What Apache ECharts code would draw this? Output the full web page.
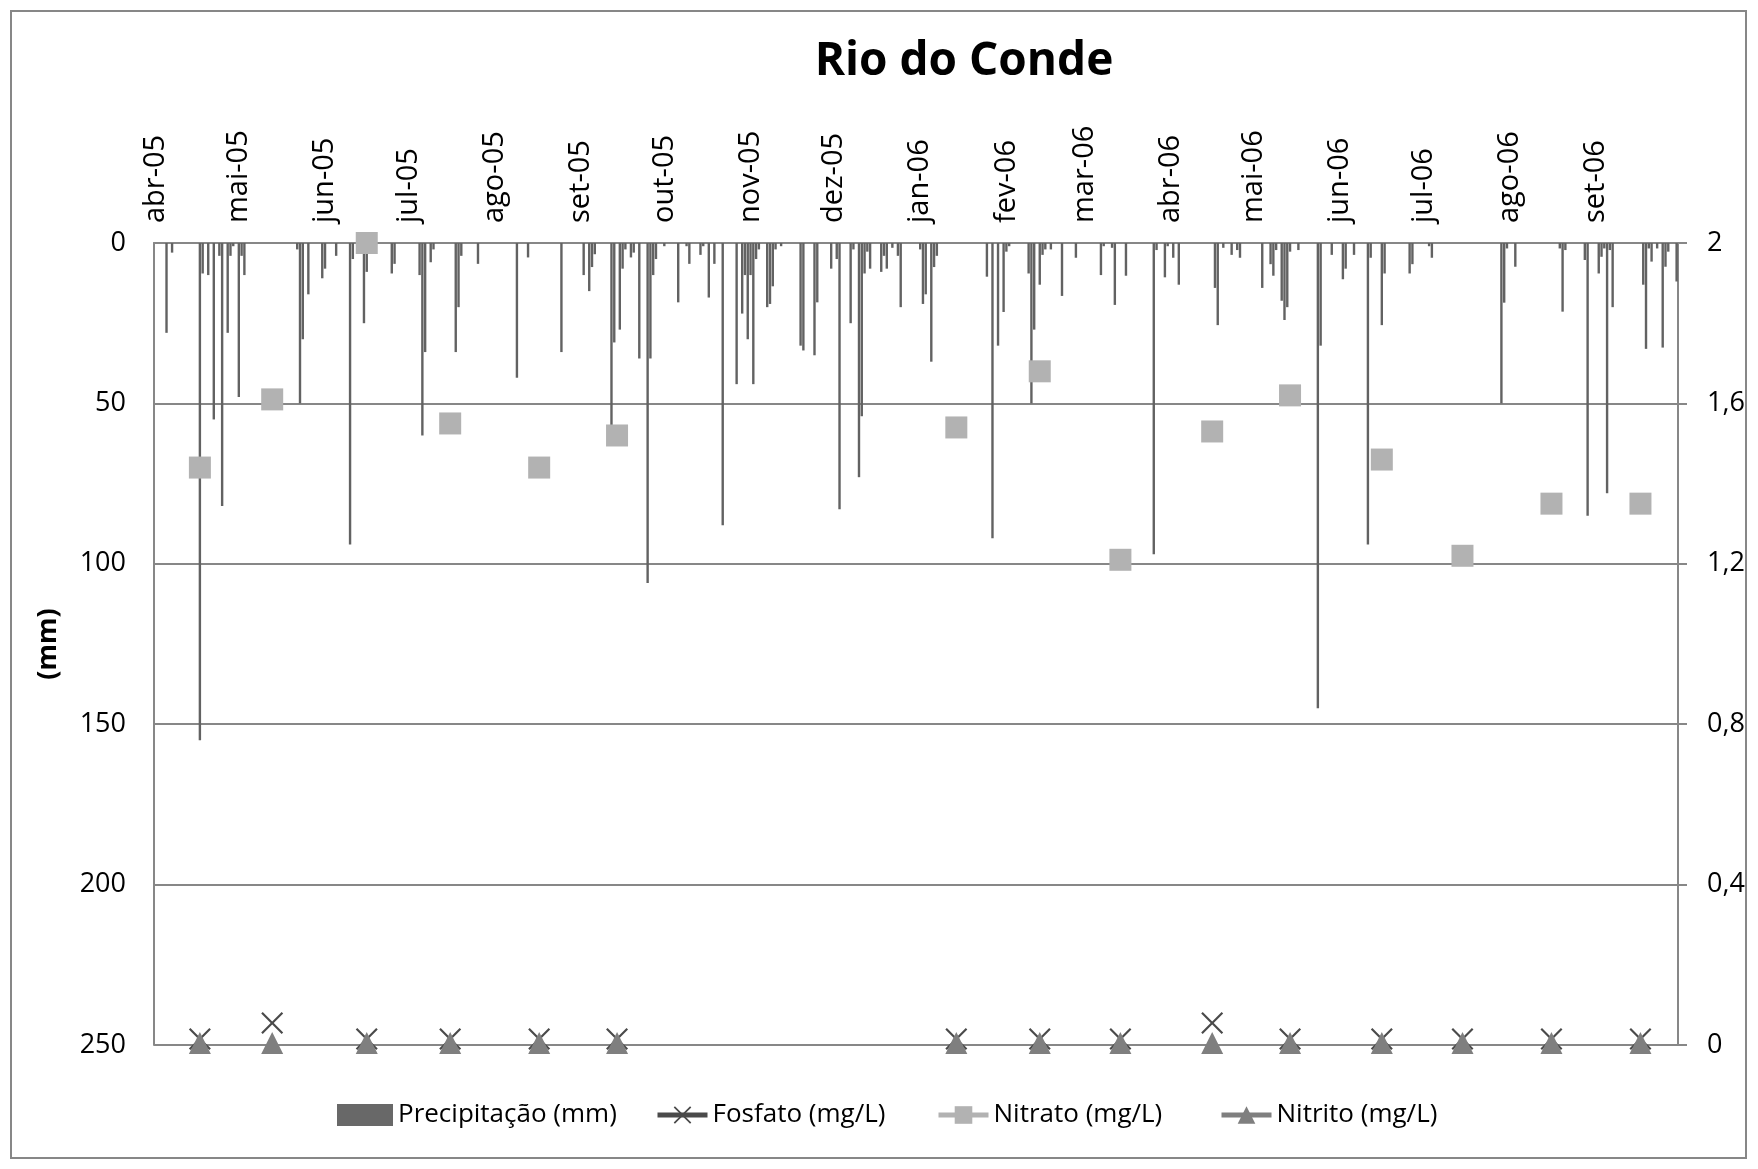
<!DOCTYPE html>
<html>
<head>
<meta charset="utf-8">
<script src="https://cdn.jsdelivr.net/npm/echarts@6/dist/echarts.min.js"></script>
<style>
  html, body { margin: 0; padding: 0; background: #ffffff; }
  #chart { width: 1758px; height: 1169px; }
</style>
</head>
<body>
<div id="chart"></div>
<script>
// Period covered: daily, from 1 Apr 2005 to 30 Sep 2006
const startDate = '2005-04-01';
const dayCount = 548;

// Month tick labels (first day of each month)
const monthLabels = ['abr-05', 'mai-05', 'jun-05', 'jul-05', 'ago-05', 'set-05', 'out-05', 'nov-05', 'dez-05',
  'jan-06', 'fev-06', 'mar-06', 'abr-06', 'mai-06', 'jun-06', 'jul-06', 'ago-06', 'set-06'];

// Daily rainfall (mm); days not listed had no rain
const precipitacao = [
  ['2005-04-05', 28], ['2005-04-07', 3], ['2005-04-17', 155], ['2005-04-18', 9.5], ['2005-04-20', 10],
  ['2005-04-22', 55], ['2005-04-24', 4], ['2005-04-25', 82], ['2005-04-27', 28], ['2005-04-28', 4],
  ['2005-04-29', 1], ['2005-05-01', 48], ['2005-05-02', 4], ['2005-05-03', 10], ['2005-05-22', 2],
  ['2005-05-23', 50], ['2005-05-24', 30], ['2005-05-26', 16], ['2005-05-31', 11], ['2005-06-01', 8],
  ['2005-06-05', 4], ['2005-06-10', 94], ['2005-06-11', 5], ['2005-06-15', 25], ['2005-06-16', 9],
  ['2005-06-25', 9.5], ['2005-06-26', 6.5], ['2005-07-05', 10], ['2005-07-06', 60], ['2005-07-07', 34],
  ['2005-07-09', 6], ['2005-07-10', 2], ['2005-07-18', 34], ['2005-07-19', 20], ['2005-07-20', 4],
  ['2005-07-26', 6.5], ['2005-08-09', 42], ['2005-08-13', 4.5], ['2005-08-25', 34], ['2005-09-02', 10],
  ['2005-09-04', 15], ['2005-09-05', 7.5], ['2005-09-06', 3.5], ['2005-09-12', 57], ['2005-09-13', 31],
  ['2005-09-15', 27], ['2005-09-16', 8], ['2005-09-17', 2], ['2005-09-19', 4.5], ['2005-09-20', 3],
  ['2005-09-22', 36], ['2005-09-25', 106], ['2005-09-26', 36], ['2005-09-27', 10], ['2005-09-28', 5],
  ['2005-10-01', 1], ['2005-10-06', 18.5], ['2005-10-09', 1], ['2005-10-10', 6.5], ['2005-10-14', 3.7],
  ['2005-10-15', 1], ['2005-10-17', 17], ['2005-10-19', 6.5], ['2005-10-22', 88], ['2005-10-27', 44],
  ['2005-10-29', 22], ['2005-10-30', 10], ['2005-10-31', 30], ['2005-11-01', 10], ['2005-11-02', 44],
  ['2005-11-03', 5], ['2005-11-04', 2], ['2005-11-07', 20], ['2005-11-08', 19], ['2005-11-09', 13.5],
  ['2005-11-10', 2], ['2005-11-12', 1], ['2005-11-19', 32], ['2005-11-20', 33.5], ['2005-11-24', 35],
  ['2005-11-25', 18.5], ['2005-11-30', 8], ['2005-12-02', 5], ['2005-12-03', 83], ['2005-12-07', 25],
  ['2005-12-08', 2], ['2005-12-10', 73], ['2005-12-11', 54], ['2005-12-12', 9.5], ['2005-12-13', 2.7],
  ['2005-12-14', 8], ['2005-12-18', 9], ['2005-12-19', 4], ['2005-12-20', 8], ['2005-12-22', 1.5],
  ['2005-12-24', 4], ['2005-12-25', 20], ['2006-01-01', 2], ['2006-01-02', 19], ['2006-01-03', 16],
  ['2006-01-05', 37], ['2006-01-06', 7.5], ['2006-01-07', 4], ['2006-01-25', 10.5], ['2006-01-27', 92],
  ['2006-01-29', 32], ['2006-01-31', 21.5], ['2006-02-01', 2.7], ['2006-02-02', 1], ['2006-02-09', 9.5],
  ['2006-02-10', 50], ['2006-02-11', 27], ['2006-02-13', 13], ['2006-02-14', 3.7], ['2006-02-15', 2],
  ['2006-02-17', 2], ['2006-02-21', 16.5], ['2006-02-26', 4.6], ['2006-03-07', 10], ['2006-03-08', 1],
  ['2006-03-11', 1.5], ['2006-03-12', 19.3], ['2006-03-16', 10.2], ['2006-03-26', 97], ['2006-03-27', 2.2],
  ['2006-03-30', 10.7], ['2006-03-31', 1], ['2006-04-02', 4.6], ['2006-04-04', 13], ['2006-04-17', 14],
  ['2006-04-18', 25.6], ['2006-04-20', 1.5], ['2006-04-23', 3.7], ['2006-04-25', 2.2], ['2006-04-26', 4.6],
  ['2006-05-04', 14], ['2006-05-07', 6.6], ['2006-05-08', 10.2], ['2006-05-09', 2.2], ['2006-05-11', 18],
  ['2006-05-12', 24], ['2006-05-13', 20], ['2006-05-14', 2.7], ['2006-05-17', 2.2], ['2006-05-24', 145],
  ['2006-05-25', 32], ['2006-05-29', 3.7], ['2006-06-02', 11.3], ['2006-06-03', 8], ['2006-06-06', 3.7],
  ['2006-06-11', 94], ['2006-06-12', 4.6], ['2006-06-16', 25.6], ['2006-06-17', 9.5], ['2006-06-26', 9.5],
  ['2006-06-27', 6.6], ['2006-07-03', 1], ['2006-07-04', 4.6], ['2006-07-29', 50], ['2006-07-30', 18.6],
  ['2006-07-31', 1.7], ['2006-08-03', 7.4], ['2006-08-19', 1.7], ['2006-08-20', 21.4], ['2006-08-21', 2.2],
  ['2006-08-28', 5.3], ['2006-08-29', 85], ['2006-09-02', 9.5], ['2006-09-03', 4.3], ['2006-09-04', 1.7],
  ['2006-09-05', 78], ['2006-09-06', 2.2], ['2006-09-07', 20], ['2006-09-18', 13], ['2006-09-19', 33],
  ['2006-09-20', 1.7], ['2006-09-21', 5.8], ['2006-09-23', 1.7], ['2006-09-25', 32.6], ['2006-09-26', 7.4],
  ['2006-09-27', 2.7], ['2006-09-30', 12]
];

// Water-quality sampling campaigns
const coletas = ['2005-04-17', '2005-05-13', '2005-06-16', '2005-07-16', '2005-08-17', '2005-09-14',
  '2006-01-14', '2006-02-13', '2006-03-14', '2006-04-16', '2006-05-14', '2006-06-16', '2006-07-15',
  '2006-08-16', '2006-09-17'];
const fosfato = [0.015, 0.055, 0.015, 0.015, 0.015, 0.015, 0.015, 0.015, 0.015, 0.055, 0.015, 0.015, 0.015, 0.015, 0.015];
const nitrato = [1.44, 1.61, 2.0, 1.55, 1.44, 1.52, 1.54, 1.68, 1.21, 1.53, 1.62, 1.46, 1.22, 1.35, 1.35];
const nitrito = [0.005, 0.005, 0.005, 0.005, 0.005, 0.005, 0.005, 0.005, 0.005, 0.005, 0.005, 0.005, 0.005, 0.005, 0.005];

// Legend entries and where each one starts
const legendNames = ['Precipitação (mm)', 'Fosfato (mg/L)', 'Nitrato (mg/L)', 'Nitrito (mg/L)'];
const legendLeft = [332, 650, 931, 1214];

// ---- build the daily category axis and per-day series ----
function isoDay(d) {
  return d.toISOString().slice(0, 10);
}
const days = [];
const t0 = new Date(startDate + 'T00:00:00Z');
for (let i = 0; i < dayCount; i++) {
  days.push(isoDay(new Date(t0.getTime() + i * 86400000)));
}
const dayIndex = {};
days.forEach((d, i) => { dayIndex[d] = i; });

const chuva = days.map(() => 0);
precipitacao.forEach(([d, v]) => { chuva[dayIndex[d]] = v; });

function porDia(valores) {
  const arr = days.map(() => null);
  coletas.forEach((d, i) => { arr[dayIndex[d]] = valores[i]; });
  return arr;
}

const FONT = '"Open Sans", "Noto Sans", sans-serif';
const AXIS_GRAY = '#878787';

// X-shaped marker outline (10x10 box)
const xMarker = 'path://M0,0.7 L0.7,0 L5,4.3 L9.3,0 L10,0.7 L5.7,5 L10,9.3 L9.3,10 L5,5.7 L0.7,10 L0,9.3 L4.3,5 Z';

// one legend box per entry, placed side by side along the bottom
const legends = legendNames.map((name, i) => ({
  left: legendLeft[i],
  top: 1097,
  itemWidth: i === 0 ? 56 : 50,
  itemHeight: 22,
  textStyle: { fontFamily: FONT, fontSize: 26, color: '#000' },
  lineStyle: { width: 5 },
  data: [i === 0 ? { name, icon: 'rect', itemStyle: { color: '#686868' } } : { name }]
}));

const chart = echarts.init(document.getElementById('chart'), null, { renderer: 'canvas' });

chart.setOption({
  backgroundColor: '#ffffff',
  animation: false,
  title: {
    text: 'Rio do Conde',
    left: 959,
    top: 34,
    textAlign: 'center',
    textStyle: { fontFamily: FONT, fontSize: 46, fontWeight: 'bold', color: '#000' }
  },
  graphic: [{
    type: 'rect',
    silent: true,
    shape: { x: 11, y: 11, width: 1735, height: 1147 },
    style: { fill: 'none', stroke: AXIS_GRAY, lineWidth: 2 }
  }],
  legend: legends,
  grid: {
    left: 154, top: 243, width: 1524, height: 802,
    containLabel: false, outerBoundsMode: 'none'
  },
  xAxis: {
    type: 'category',
    data: days,
    position: 'top',
    boundaryGap: true,
    axisLine: { onZero: false, lineStyle: { color: AXIS_GRAY, width: 2 } },
    axisTick: { show: false },
    splitLine: { show: false },
    axisLabel: {
      rotate: -90,
      margin: 20,
      fontFamily: FONT,
      fontSize: 29,
      color: '#000',
      interval: (idx, val) => val.slice(8) === '01',
      formatter: (val) => {
        const y = +val.slice(0, 4), m = +val.slice(5, 7);
        return monthLabels[(y - 2005) * 12 + (m - 4)];
      }
    }
  },
  yAxis: [{
    type: 'value',
    position: 'left',
    inverse: true,
    min: 0, max: 250, interval: 50,
    name: '(mm)',
    nameLocation: 'middle',
    nameRotate: 90,
    nameGap: 92,
    nameTextStyle: { fontFamily: FONT, fontSize: 27, fontWeight: 'bold', color: '#000' },
    axisLine: { show: true, lineStyle: { color: AXIS_GRAY, width: 2 } },
    axisTick: { show: false },
    axisLabel: { margin: 28, fontFamily: FONT, fontSize: 27, color: '#000' },
    splitLine: { show: true, lineStyle: { color: AXIS_GRAY, width: 2 } }
  }, {
    type: 'value',
    position: 'right',
    min: 0, max: 2, interval: 0.4,
    axisLine: { show: true, lineStyle: { color: AXIS_GRAY, width: 2 } },
    axisTick: { show: true, inside: false, length: 9, lineStyle: { color: AXIS_GRAY, width: 2 } },
    axisLabel: {
      margin: 29, fontFamily: FONT, fontSize: 27, color: '#000',
      formatter: (v) => String(+v.toFixed(1)).replace('.', ',')
    },
    splitLine: { show: false }
  }],
  series: [{
    name: 'Precipitação (mm)',
    type: 'bar',
    yAxisIndex: 0,
    data: chuva,
    barWidth: 2.4,
    itemStyle: { color: '#626262' }
  }, {
    name: 'Fosfato (mg/L)',
    type: 'line',
    yAxisIndex: 1,
    data: porDia(fosfato),
    connectNulls: false,
    showAllSymbol: true,
    symbol: xMarker,
    symbolSize: 22,
    itemStyle: { color: '#4a4a4a' },
    lineStyle: { color: '#4a4a4a', width: 5 }
  }, {
    name: 'Nitrato (mg/L)',
    type: 'line',
    yAxisIndex: 1,
    data: porDia(nitrato),
    connectNulls: false,
    showAllSymbol: true,
    symbol: 'rect',
    symbolSize: 22,
    itemStyle: { color: '#b2b2b2' },
    lineStyle: { color: '#b2b2b2', width: 5 }
  }, {
    name: 'Nitrito (mg/L)',
    type: 'line',
    yAxisIndex: 1,
    data: porDia(nitrito),
    connectNulls: false,
    showAllSymbol: true,
    symbol: 'triangle',
    symbolSize: 22,
    itemStyle: { color: '#7f7f7f' },
    lineStyle: { color: '#7f7f7f', width: 5 }
  }]
});
</script>
</body>
</html>
